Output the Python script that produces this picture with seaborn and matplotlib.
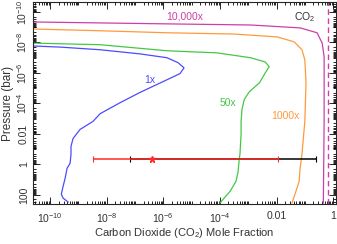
import numpy as np
import pandas as pd
import matplotlib
matplotlib.use("Agg")
from matplotlib import pyplot as plt
from matplotlib import ticker
import seaborn as sns

# metallicity curves: CO2 mole fraction vs pressure (bar)
x_1x = [2.5e-11, 2.2e-10, 5.9e-9, 1.5e-7, 1.35e-6, 3.3e-6, 5.4e-6, 3.9e-6, 1.35e-6, 1.5e-7,
        3.0e-8, 5.9e-9, 3.3e-9, 1.15e-9, 6.5e-10, 5.5e-10, 5.5e-10, 5.1e-10, 4.0e-10, 3.4e-10,
        2.9e-10, 2.5e-10, 2.9e-10, 4.4e-10]
p_1x = [1.7e-8, 2.0e-8, 3.0e-8, 5.6e-8, 1.0e-7, 2.1e-7, 4.6e-7, 1.1e-6, 2.8e-6, 1.9e-5,
        8.9e-5, 4.7e-4, 1.5e-3, 5.1e-3, 0.02, 0.066, 0.22, 0.85, 1.8, 8.3,
        27, 91, 166, 300]

x_50x = [2.5e-11, 5.9e-9, 1.35e-6, 7.9e-5, 1.2e-3, 4.0e-3, 5.5e-3, 4.0e-3, 2.5e-3, 1.1e-3,
         7.2e-4, 6.0e-4, 5.6e-4, 5.6e-4, 5.1e-4, 4.8e-4, 4.4e-4, 3.7e-4, 2.3e-4, 1.4e-4, 1.0e-4]
p_50x = [1.1e-8, 1.4e-8, 3.5e-8, 4.8e-8, 1.0e-7, 1.9e-7, 3.9e-7, 9.8e-7, 4.4e-6, 1.7e-5,
         5.6e-5, 2.6e-4, 1.5e-3, 0.011, 0.22, 0.47, 2.9, 13, 58, 166, 355]

x_1000x = [2.5e-11, 5.9e-9, 1.35e-6, 3.2e-4, 0.0105, 0.042, 0.079, 0.10, 0.11, 0.10,
           0.079, 0.068, 0.063, 0.046, 0.035]
p_1000x = [1.3e-9, 1.7e-9, 2.3e-9, 2.8e-9, 4.3e-9, 9.1e-9, 3.0e-8, 1.4e-7, 4.4e-6, 1.5e-3,
           0.22, 1.8, 13, 79, 355]

x_10000x = [2.5e-11, 1.35e-6, 1.2e-3, 0.068, 0.27, 0.41, 0.48, 0.48, 0.45]
p_10000x = [4.5e-10, 6.0e-10, 7.1e-10, 1.1e-9, 2.3e-9, 1.1e-8, 8.7e-8, 1.5e-3, 355]

x_pure = 0.66  # dashed vertical

# measurement error bars
p_meas = 0.47
red_x, red_lo, red_hi = 4e-7, 3.3e-9, 0.0115
blk_x, blk_lo, blk_hi = 4e-7, 6.8e-8, 0.25

xticks = [1e-10, 1e-8, 1e-6, 1e-4, 1e-2, 1]
xticklabels = ["$10^{-10}$", "$10^{-8}$", "$10^{-6}$", "$10^{-4}$", "0.01", "1"]
yticks = [1e-10, 1e-8, 1e-6, 1e-4, 1e-2, 1, 100]
yticklabels = ["$10^{-10}$", "$10^{-8}$", "$10^{-6}$", "$10^{-4}$", "0.01", "1", "100"]

sns.set_style("ticks")
plt.rcParams['font.family'] = ['Liberation Sans', 'DejaVu Sans']
plt.rcParams['mathtext.default'] = 'regular'
txt = '#333333'

fig = plt.figure(figsize=(3.37, 2.44), dpi=100)
ax = fig.add_axes([33/337, 40/244, 303/337, 202/244])

curves = [(x_1x, p_1x, '#4b4bff'), (x_50x, p_50x, '#44c844'),
          (x_1000x, p_1000x, '#ff9a3c'), (x_10000x, p_10000x, '#cc3fa8')]
for xs, ps, c in curves:
    df = pd.DataFrame({'x': xs, 'p': ps})
    sns.lineplot(data=df, x='x', y='p', sort=False, estimator=None, color=c, lw=0.9, ax=ax)

ax.axvline(x_pure, color='#cc3fa8', lw=1.0, ls=(0, (4, 2.5)))

ax.errorbar([blk_x], [p_meas], xerr=[[blk_x - blk_lo], [blk_hi - blk_x]], fmt='none',
            ecolor='black', elinewidth=1.1, capsize=2, capthick=0.8)
ax.errorbar([red_x], [p_meas], xerr=[[red_x - red_lo], [red_hi - red_x]], fmt='*',
            color='#ff2a2a', ms=5, ecolor='#ff2a2a', elinewidth=1.1, capsize=2, capthick=0.8)

ax.set_xscale('log')
ax.set_yscale('log')
ax.set_xlim(2.5e-11, 1.26)
ax.set_ylim(400, 2.2e-11)

ax.xaxis.set_major_locator(ticker.FixedLocator(xticks))
ax.set_xticklabels(xticklabels)
ax.yaxis.set_major_locator(ticker.FixedLocator(yticks))
ax.set_yticklabels(yticklabels, rotation=90, va='center')
ax.xaxis.set_minor_locator(ticker.LogLocator(base=10, subs=np.arange(1, 10), numticks=100))
ax.yaxis.set_minor_locator(ticker.LogLocator(base=10, subs=np.arange(1, 10), numticks=100))
ax.xaxis.set_minor_formatter(ticker.NullFormatter())
ax.yaxis.set_minor_formatter(ticker.NullFormatter())
ax.tick_params(which='both', direction='in', top=True, right=True, colors='black',
               labelcolor=txt, labelsize=7.5, width=0.6)
ax.tick_params(which='major', length=5)
ax.tick_params(which='minor', length=2.5)
ax.tick_params(axis='x', pad=5)
ax.tick_params(axis='y', pad=3)
for s in ax.spines.values():
    s.set_linewidth(0.8)

ax.set_xlabel("Carbon Dioxide (CO$_2$) Mole Fraction", fontsize=8, color=txt, labelpad=1)
ax.set_ylabel("Pressure (bar)", fontsize=8.5, color=txt, labelpad=1)

ax.text(3.4e-7, 2.8e-6, "1x", color='#4b4bff', fontsize=7.5, ha='center', va='center')
ax.text(1.9e-4, 8.9e-5, "50x", color='#44c844', fontsize=7.5, ha='center', va='center')
ax.text(0.02, 7e-4, "1000x", color='#ff9a3c', fontsize=7.5, ha='center', va='center')
ax.text(5.9e-6, 2.1e-10, "10,000x", color='#cc3fa8', fontsize=7.5, ha='center', va='center')
ax.text(0.095, 2.1e-10, "CO$_2$", color=txt, fontsize=7.5, ha='center', va='center')

fig.savefig("out.png", dpi=100)
